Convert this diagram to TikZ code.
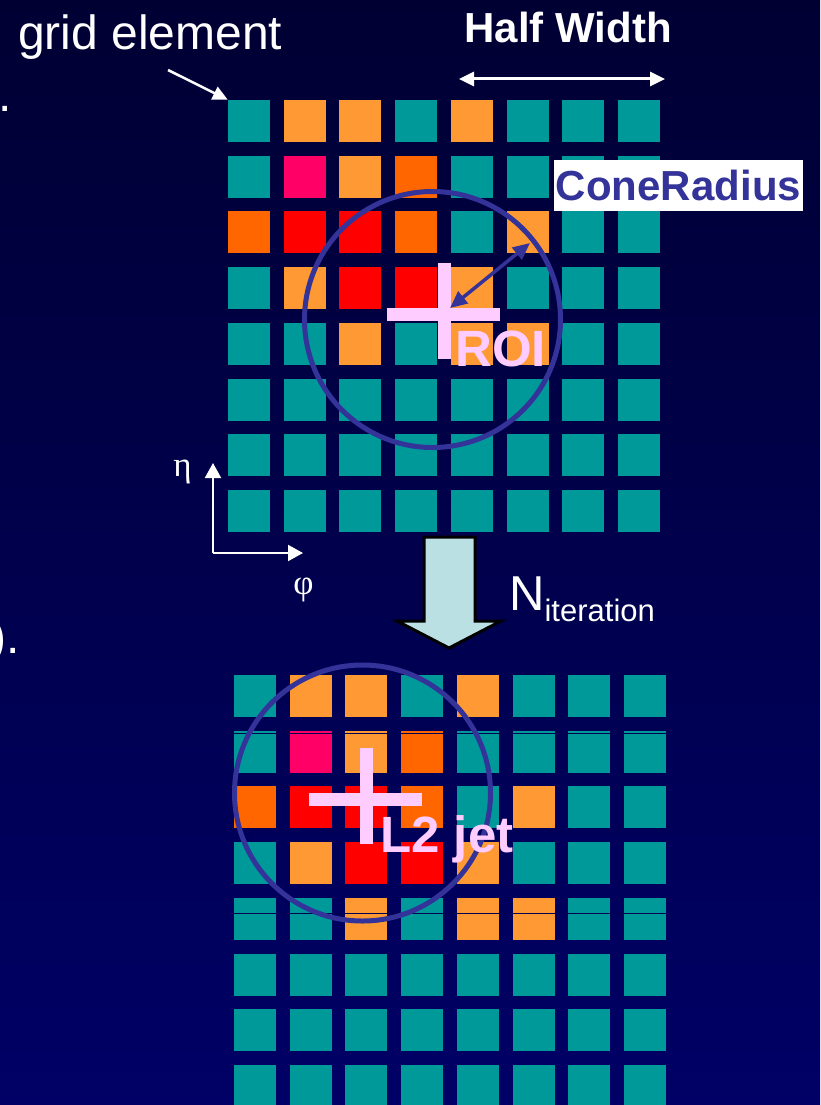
\documentclass[tikz,border=0pt]{standalone}
\usepackage{fontspec}
\setmainfont{Liberation Sans}
\newfontfamily\greekfont{Liberation Serif}
\usepackage{xcolor}
\usepackage{tikz}
\usetikzlibrary{arrows.meta,calc}
\definecolor{bgtop}{RGB}{0,0,51}
\definecolor{bgbot}{RGB}{0,0,102}
\definecolor{bgmid}{RGB}{0,0,80}
\definecolor{teal2}{RGB}{0,153,153}
\definecolor{ltorange}{RGB}{255,153,51}
\definecolor{dkorange}{RGB}{255,102,0}
\definecolor{red2}{RGB}{255,0,0}
\definecolor{hotpink}{RGB}{255,0,102}
\definecolor{ringblue}{RGB}{51,51,153}
\definecolor{crosspink}{RGB}{255,204,255}
\definecolor{iterfill}{RGB}{187,224,227}
\tikzset{
  cell/.style={rectangle, inner sep=0pt, minimum size=42pt},
  ring/.style={circle, draw=ringblue, line width=5pt, inner sep=0pt, minimum size=256pt},
  crossbar/.style={draw=crosspink, line width=13pt},
  seam/.style={draw=bgmid, line width=1pt},
  whiteflow/.style={draw=white, line width=2.5pt, -{Triangle[length=15pt,width=14pt]}},
  axisflow/.style={draw=white, line width=2pt, -{Triangle[length=15pt,width=16pt]}},
  spanflow/.style={draw=white, line width=3pt, {Triangle[length=15pt,width=14pt]}-{Triangle[length=15pt,width=14pt]}},
  radiusflow/.style={draw=ringblue, line width=3.5pt, {Triangle[length=17pt,width=15pt]}-{Triangle[length=17pt,width=15pt]}},
  iterarrow/.style={draw=black, line width=3pt, fill=iterfill, line join=miter},
  plainlbl/.style={text=white, inner sep=0pt, font=\fontsize{48}{56}\selectfont},
  boldlbl/.style={text=white, inner sep=0pt, font=\fontsize{42}{50}\selectfont\bfseries},
  tag/.style={text=crosspink, inner sep=0pt, font=\fontsize{51}{60}\selectfont\bfseries},
  greek/.style={text=white, inner sep=0pt, font=\fontsize{35}{40}\selectfont\greekfont},
  radiusbox/.style={fill=white, text=ringblue, inner sep=0pt, minimum width=249pt, minimum height=51pt, font=\fontsize{42}{50}\selectfont\bfseries}
}
\begin{document}
\begin{tikzpicture}[x=1pt, y=-1pt]
\useasboundingbox (0,0) rectangle (820,1105);
\shade[top color=bgtop, bottom color=bgbot] (0,0) rectangle (820,1105);

% energy map, same for both grids
\def\cellrows{{teal2,ltorange,ltorange,teal2,ltorange,teal2,teal2,teal2},
  {teal2,hotpink,ltorange,dkorange,teal2,teal2,teal2,teal2},
  {dkorange,red2,red2,dkorange,teal2,ltorange,teal2,teal2},
  {teal2,ltorange,red2,red2,ltorange,teal2,teal2,teal2},
  {teal2,teal2,ltorange,teal2,ltorange,ltorange,teal2,teal2},
  {teal2,teal2,teal2,teal2,teal2,teal2,teal2,teal2},
  {teal2,teal2,teal2,teal2,teal2,teal2,teal2,teal2},
  {teal2,teal2,teal2,teal2,teal2,teal2,teal2,teal2}}
\foreach \gx/\gy/\gn in {249/121/t, 255/696/b} {
  \foreach \rowlist [count=\r] in \cellrows {
    \foreach \fc [count=\c] in \rowlist {
      \node[cell, fill=\fc] (\gn-\r-\c) at ({\gx+55.7*(\c-1)}, {\gy+55.7*(\r-1)}) {};
    }
  }
}
\draw[seam] ($(b-2-1.north west)+(0,3)$) -- ($(b-2-8.north east)+(0,3)$);
\draw[seam] ($(b-5-1.north west)+(0,16)$) -- ($(b-5-8.north east)+(0,16)$);

% cut-off text at the left edge
\node[plainlbl, anchor=base west] (dotA) at (-2,112) {.};
\node[plainlbl, anchor=base west] (dotB) at (-10,653) {).};

% labels above the top grid
\node[plainlbl, anchor=base west] (gridlbl) at (18,50) {grid element};
\coordinate (gridfrom) at (168,70);
\draw[whiteflow] (gridfrom) -- (t-1-1.north west);
\node[boldlbl, anchor=base] (halflbl) at (568,43) {Half Width};
\coordinate (hwL) at (459,79);
\coordinate (hwR) at (665,79);
\draw[spanflow] (hwL) -- (hwR);

% ROI cone
\node[ring] (roiring) at (432.5,319.5) {};
\coordinate (roi) at (444.5,314.5);
\draw[crossbar] ($(roi)+(-58,0)$) -- ($(roi)+(55,0)$);
\draw[crossbar] ($(roi)+(0,-52)$) -- ($(roi)+(0,44)$);
\node[tag, anchor=base west] (roilbl) at (455,366) {ROI};
\coordinate (radfrom) at (450,308);
\coordinate (radto) at (530,243);
\draw[radiusflow] (radfrom) -- (radto);
\node[radiusbox] (conelbl) at (678.5,185.5) {ConeRadius};

% axes
\coordinate (axo) at (213,553);
\coordinate (etaend) at (213,463);
\coordinate (phiend) at (303,553);
\draw[axisflow] (axo) -- (etaend);
\draw[axisflow] (axo) -- (phiend);
\node[greek] (etalbl) at (182.5,472) {η};
\node[greek] (philbl) at (303.5,590) {φ};

% iteration arrow
\draw[iterarrow] (424,537) -- (475,537) -- (475,621) -- (501,621) -- (449,648) -- (397,621) -- (424,621) -- cycle;
\node[text=white, inner sep=0pt, anchor=base west, font=\fontsize{49}{56}\selectfont] (niter) at (509,610)
  {N\raisebox{-11pt}{\fontsize{31}{36}\selectfont iteration}};

% L2 jet cone
\node[ring] (jetring) at (362.5,793) {};
\coordinate (jet) at (366.5,799.5);
\draw[crossbar] ($(jet)+(-58,0)$) -- ($(jet)+(55,0)$);
\draw[crossbar] ($(jet)+(0,-52)$) -- ($(jet)+(0,44)$);
\node[tag, anchor=base west] (jetlbl) at (380,852) {L2 jet};
\end{tikzpicture}
\end{document}
